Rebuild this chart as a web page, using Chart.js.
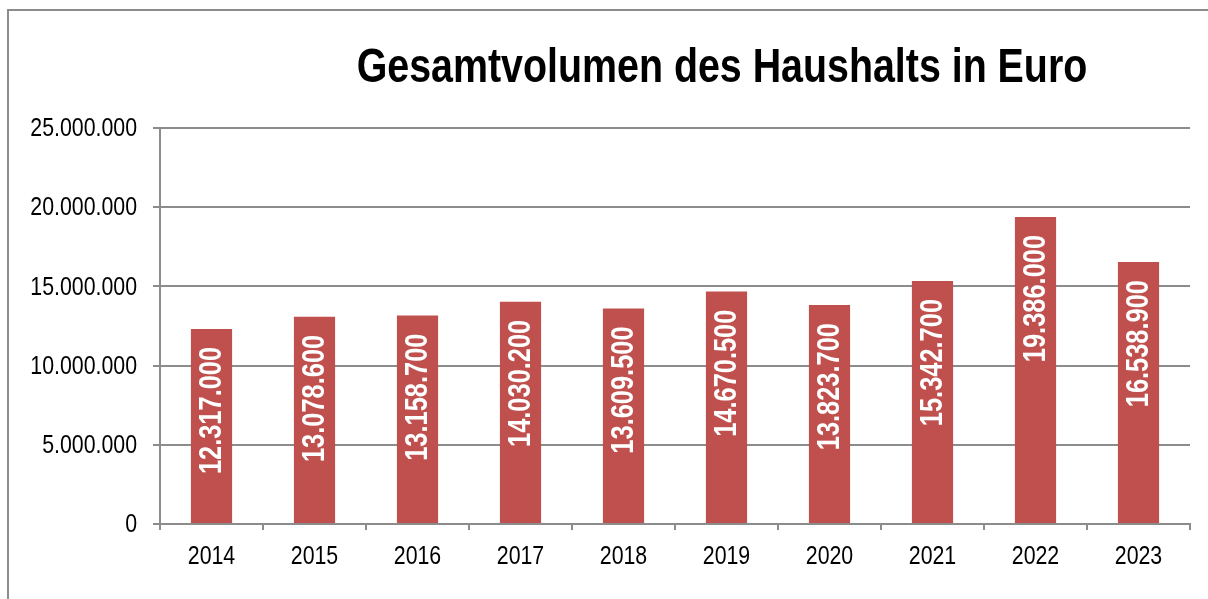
<!DOCTYPE html>
<html>
<head>
<meta charset="utf-8">
<script src="https://cdn.jsdelivr.net/npm/chart.js@4"></script>
<style>
  html, body { margin: 0; padding: 0; background: #fff; overflow: hidden; }
  #rahmen { position: absolute; left: 7px; top: 9px; width: 1300px; height: 700px; border: 2px solid #8c8c8c; }
  #wrap { position: absolute; left: 0; top: 0; width: 1208px; height: 599px; }
</style>
</head>
<body>
<div id="rahmen"></div>
<div id="wrap"><canvas id="grafico" width="1208" height="599"></canvas></div>
<script>
const jahre = ['2014', '2015', '2016', '2017', '2018', '2019', '2020', '2021', '2022', '2023'];
const volumen = [12317000, 13078600, 13158700, 14030200, 13609500, 14670500, 13823700, 15342700, 19386000, 16538900];
const titel = 'Gesamtvolumen des Haushalts in Euro';

const schrift = "'Liberation Sans', Arial, sans-serif";
const grau = '#8c8c8c';
const schmal = 0.82; // Arial Narrow nachbilden
const fmt = v => v.toLocaleString('de-DE');

function textSchmal(ctx, text, x, y, winkel) {
  ctx.save();
  ctx.translate(x, y);
  if (winkel) ctx.rotate(winkel);
  ctx.scale(schmal, 1);
  ctx.fillText(text, 0, 0);
  ctx.restore();
}

// Titel, Achsenbeschriftung und Balkenwerte selbst zeichnen (schmale Schrift)
const beschriftung = {
  id: 'beschriftung',
  afterDatasetsDraw(chart) {
    const ctx = chart.ctx;
    const meta = chart.getDatasetMeta(0);
    ctx.save();
    ctx.fillStyle = '#fff';
    ctx.font = 'bold 31px ' + schrift;
    ctx.textAlign = 'right';
    ctx.textBaseline = 'middle';
    meta.data.forEach((bar, i) => {
      textSchmal(ctx, fmt(volumen[i]), bar.x + 1, bar.y + 18, -Math.PI / 2);
    });
    ctx.restore();
  },
  afterDraw(chart) {
    const ctx = chart.ctx;
    const xs = chart.scales.x, ys = chart.scales.y;
    ctx.save();
    ctx.fillStyle = '#000';
    ctx.font = '26px ' + schrift;
    ctx.textBaseline = 'middle';
    ctx.textAlign = 'right';
    ys.ticks.forEach(t => {
      textSchmal(ctx, fmt(t.value), 137, ys.getPixelForValue(t.value) + 1, 0);
    });
    ctx.textAlign = 'center';
    jahre.forEach((j, i) => {
      textSchmal(ctx, j, xs.getPixelForTick(i), xs.bottom - 75 + 33, 0);
    });
    ctx.font = 'bold 48px ' + schrift;
    ctx.textBaseline = 'alphabetic';
    textSchmal(ctx, titel, 722, 82, 0);
    ctx.restore();
  }
};

const ctx = document.getElementById('grafico').getContext('2d');
const chart = new Chart(ctx, {
  type: 'bar',
  data: {
    labels: jahre,
    datasets: [{
      data: volumen,
      backgroundColor: '#c0504d',
      borderWidth: 0,
      barPercentage: 0.4,
      categoryPercentage: 1
    }]
  },
  options: {
    responsive: false,
    animation: false,
    layout: { padding: { left: 0, right: 18, top: 128, bottom: 0 } },
    plugins: {
      legend: { display: false },
      title: { display: false },
      tooltip: { enabled: false }
    },
    scales: {
      x: {
        offset: true,
        grid: { display: true, drawOnChartArea: false, drawTicks: true, tickLength: 6, color: grau, lineWidth: 2, offset: true },
        border: { display: true, color: grau, width: 2 },
        ticks: { display: false },
        afterFit(scale) { scale.height = 75; }
      },
      y: {
        min: 0,
        max: 25000000,
        grid: { color: grau, lineWidth: 2, tickLength: 7, drawTicks: true },
        border: { display: true, color: grau, width: 2 },
        ticks: { display: false, stepSize: 5000000 },
        afterFit(scale) { scale.width = 160; }
      }
    }
  },
  plugins: [beschriftung]
});
</script>
</body>
</html>
